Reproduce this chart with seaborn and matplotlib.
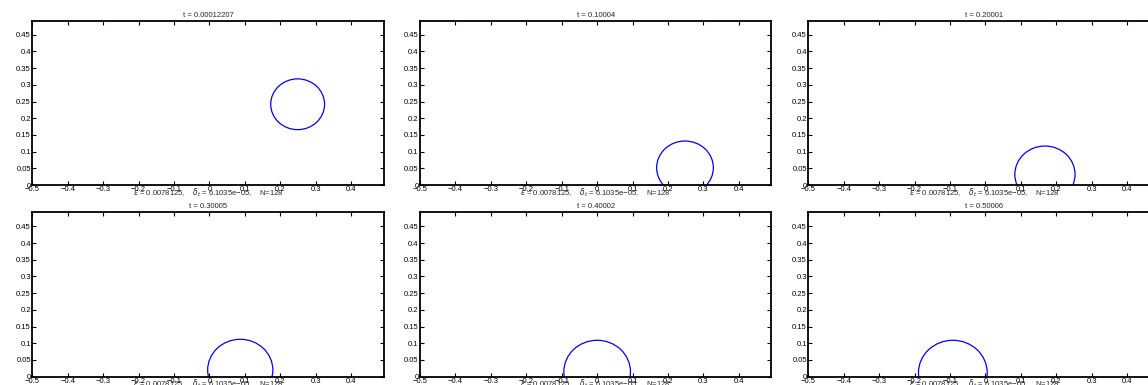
import matplotlib
matplotlib.use('Agg')
import matplotlib.pyplot as plt
import seaborn as sns
from matplotlib.patches import Circle

# --- data ---
TIMES = ["0.00012207", "0.10004", "0.20001", "0.30005", "0.40002", "0.50006"]
CENTER_X = [0.249, 0.248, 0.168, 0.087, 0.000, -0.092]
CENTER_Y = [0.242, 0.052, 0.032, 0.020, 0.015, 0.012]
RADIUS = [0.076, 0.080, 0.085, 0.092, 0.094, 0.097]

X_TICKS = [-0.5, -0.4, -0.3, -0.2, -0.1, 0, 0.1, 0.2, 0.3, 0.4]
X_LABELS = ["\u22120.5", "\u22120.4", "\u22120.3", "\u22120.2", "\u22120.1", "0", "0.1", "0.2", "0.3", "0.4"]
Y_TICKS = [0, 0.05, 0.1, 0.15, 0.2, 0.25, 0.3, 0.35, 0.4, 0.45]
Y_LABELS = ["0", "0.05", "0.1", "0.15", "0.2", "0.25", "0.3", "0.35", "0.4", "0.45"]

H = 1.0 / 128
X_LIM = (-0.5, 0.5 - H)
Y_LIM = (0, 0.5 - H)
INFO = "$\\varepsilon$ = 0.0078125,    $\\delta_t$ = 6.1035e\u221205,    N=128"

sns.set_theme(style="ticks")
plt.rcParams['font.family'] = ['Liberation Sans', 'DejaVu Sans']
plt.rcParams['mathtext.fontset'] = 'dejavusans'

W, Hpx = 1148, 385
fig = plt.figure(figsize=(W / 100, Hpx / 100), dpi=100)
fig.patch.set_facecolor('white')

# axes boxes in pixels: (left, top, width, height)
lefts = [32.3, 420.0, 808.3]
tops = [20.7, 212.3]
aw, ah = 351.5, 164.4

for i in range(6):
    r, c = divmod(i, 3)
    ax = fig.add_axes([lefts[c] / W, (Hpx - tops[r] - ah) / Hpx, aw / W, ah / Hpx])
    ax.set_facecolor('white')
    ax.add_patch(Circle((CENTER_X[i], CENTER_Y[i]), RADIUS[i], fill=False,
                        edgecolor='#0000ff', lw=0.9))
    ax.set_xlim(*X_LIM)
    ax.set_ylim(*Y_LIM)
    ax.set_xticks(X_TICKS)
    ax.set_xticklabels(X_LABELS)
    ax.set_yticks(Y_TICKS)
    ax.set_yticklabels(Y_LABELS)
    ax.tick_params(direction='in', length=3, width=0.8, labelsize=5.5, pad=1,
                   top=True, right=True, colors='black')
    for sp in ax.spines.values():
        sp.set_visible(True)
        sp.set_linewidth(1.3)
        sp.set_color('black')
    ax.set_title("t = " + TIMES[i], fontsize=5.5, pad=3)
    ax.set_xlabel(INFO, fontsize=5.5, va='center')
    ax.xaxis.set_label_coords(0.5, -0.045)

fig.savefig("out.png", dpi=100, facecolor='white')
